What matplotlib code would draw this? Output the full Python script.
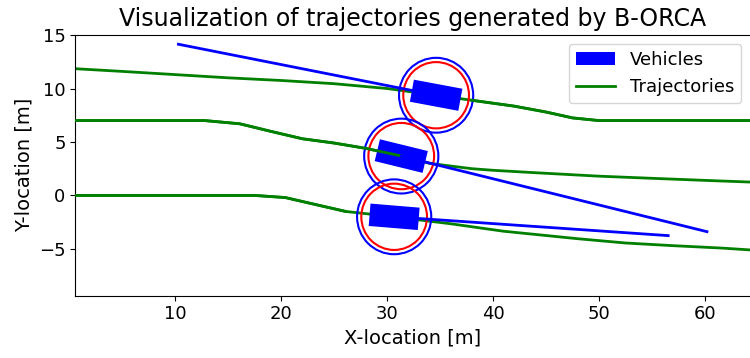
import numpy as np
from matplotlib import pyplot as plt
from matplotlib.patches import Rectangle, Circle, Patch
from matplotlib.lines import Line2D

# trajectories (x, y)
top_x = [0.6, 5, 10, 15, 20, 25, 30, 34.6, 38, 42, 45, 47.5, 50, 55, 64.3]
top_y = [11.85, 11.6, 11.3, 11.0, 10.75, 10.45, 10.0, 9.37, 8.9, 8.35, 7.8, 7.25, 7.0, 7.0, 7.0]

mid_x = [0.6, 5, 12.8, 16.1, 19, 22, 25, 28, 31.3, 34, 36, 38, 40, 43.5, 50, 55, 61.5, 64.3]
mid_y = [7.0, 7.0, 7.0, 6.7, 6.0, 5.3, 4.9, 4.4, 3.7, 3.0, 2.75, 2.5, 2.35, 2.15, 1.8, 1.6, 1.35, 1.25]

bot_x = [0.6, 10, 17.5, 20.4, 22.8, 26.1, 30.7, 34.1, 36, 38.5, 41, 43.5, 48, 52.5, 57, 61.5, 64.3]
bot_y = [0.0, 0.0, 0.0, -0.2, -0.75, -1.5, -2.0, -2.42, -2.65, -3.0, -3.35, -3.6, -4.05, -4.45, -4.7, -4.92, -5.1]

# vehicles: centre, heading
veh_x = [34.63, 31.34, 30.67]
veh_y = [9.37, 3.68, -2.0]
veh_ang = [-10.5, -13.7, -4.7]
veh_len = 4.65
veh_wid = 2.1
r_inner = 3.1
r_outer = 3.5

# blue lines (start, end)
blue_x = [[10.31, 34.63], [31.34, 60.19], [30.67, 56.53]]
blue_y = [[14.14, 9.37], [3.68, -3.39], [-2.0, -3.76]]

fig = plt.figure(figsize=(7.5, 3.58), dpi=100)
ax = fig.add_axes([0.1004, 0.174, 0.9003, 0.729])

trajs = [(top_x, top_y), (mid_x, mid_y), (bot_x, bot_y)]
for tx, ty in trajs:
    ax.plot(tx, ty, c='green', lw=2, zorder=1)

for i in range(3):
    cx, cy = veh_x[i], veh_y[i]
    ax.add_patch(Circle((cx, cy), r_outer, fill=False, ec='blue', lw=1.5, zorder=2))
    ax.add_patch(Circle((cx, cy), r_inner, fill=False, ec='red', lw=1.5, zorder=2))
    ax.add_patch(Rectangle((cx - veh_len / 2, cy - veh_wid / 2), veh_len, veh_wid,
                           angle=veh_ang[i], rotation_point='center',
                           fc='blue', ec='none', zorder=3))
    # part of the trajectory shown on top of the vehicle
    tx, ty = np.array(trajs[i][0]), np.array(trajs[i][1])
    if i == 0:
        m = tx >= cx - 0.01
    else:
        m = tx <= cx + 0.01
    ax.plot(tx[m], ty[m], c='green', lw=2, zorder=4)

for bx, by in zip(blue_x, blue_y):
    ax.plot(bx, by, c='blue', lw=2, zorder=5)

ax.set_xlim(0.58, 64.3)
ax.set_ylim(-9.38, 15.03)
ax.set_xticks([10, 20, 30, 40, 50, 60])
ax.set_yticks([-5, 0, 5, 10, 15])
ax.tick_params(axis='both', which='major', labelsize=13)

plt.title("Visualization of trajectories generated by B-ORCA", fontsize=17)
plt.xlabel('X-location [m]', fontsize=14)
plt.ylabel('Y-location [m]', fontsize=14)

handles = [Patch(fc='blue', label='Vehicles'),
           Line2D([], [], c='green', lw=2, label='Trajectories')]
ax.legend(handles=handles, loc='upper right', fontsize=13, handlelength=2.2)

fig.savefig('out.png', dpi=100)
